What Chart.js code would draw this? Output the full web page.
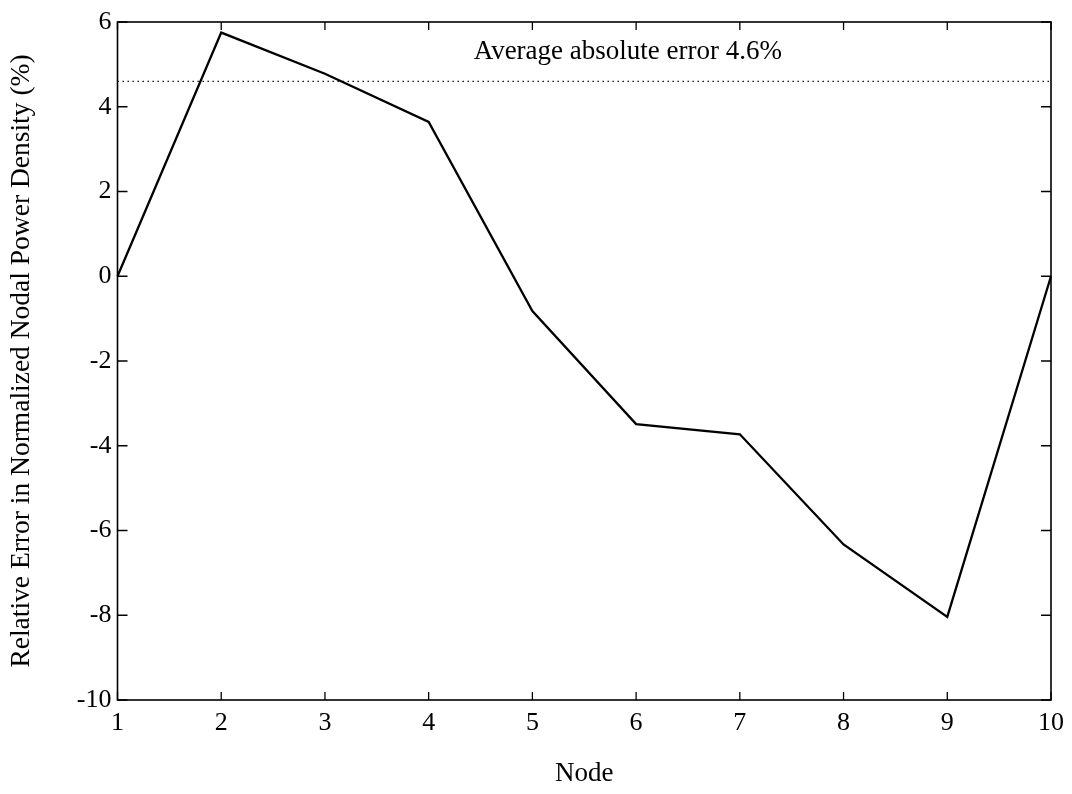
<!DOCTYPE html>
<html>
<head>
<meta charset="utf-8">
<script src="https://cdn.jsdelivr.net/npm/chart.js@4.4.1/dist/chart.umd.min.js"></script>
<style>
  html, body { margin: 0; padding: 0; background: #fff; }
  #wrap { width: 1072px; height: 794px; }
</style>
</head>
<body>
<div id="wrap"><canvas id="c" width="1072" height="794"></canvas></div>
<script>
// Node index along the channel
const nodes = [1, 2, 3, 4, 5, 6, 7, 8, 9, 10];
// Relative error in normalized nodal power density (%)
const relError = [0, 5.75, 4.78, 3.64, -0.82, -3.49, -3.73, -6.33, -8.04, 0];
// Average absolute error (%)
const avgAbsError = 4.6;
const xTicks = [1, 2, 3, 4, 5, 6, 7, 8, 9, 10];
const yTicks = [-10, -8, -6, -4, -2, 0, 2, 4, 6];
const noteText = 'Average absolute error ' + avgAbsError.toFixed(1) + '%';

const SERIF = '"Liberation Serif", "Times New Roman", Times, serif';

// Box frame with inward ticks on all four sides, plus the average-error note
const framePlugin = {
  id: 'frame',
  afterDatasetsDraw(chart) {
    const { ctx, chartArea: a, scales: { x, y } } = chart;
    ctx.save();
    ctx.strokeStyle = '#000';
    ctx.lineWidth = 1.6;
    ctx.strokeRect(a.left, a.top, a.right - a.left, a.bottom - a.top);
    ctx.lineWidth = 1.3;
    ctx.beginPath();
    xTicks.forEach(v => {
      const px = x.getPixelForValue(v);
      ctx.moveTo(px, a.bottom); ctx.lineTo(px, a.bottom - 8);
      ctx.moveTo(px, a.top); ctx.lineTo(px, a.top + 8);
    });
    yTicks.forEach(v => {
      const py = y.getPixelForValue(v);
      ctx.moveTo(a.left, py); ctx.lineTo(a.left + 10, py);
      ctx.moveTo(a.right, py); ctx.lineTo(a.right - 10, py);
    });
    ctx.stroke();

    ctx.fillStyle = '#000';
    ctx.font = '27px ' + SERIF;
    ctx.textAlign = 'center';
    ctx.textBaseline = 'alphabetic';
    ctx.fillText(noteText, x.getPixelForValue(5.92), y.getPixelForValue(5.12));
    ctx.restore();
  }
};

new Chart(document.getElementById('c'), {
  type: 'line',
  data: {
    datasets: [
      {
        label: 'Relative error',
        data: nodes.map((n, i) => ({ x: n, y: relError[i] })),
        borderColor: '#000',
        borderWidth: 2.3,
        pointRadius: 0,
        tension: 0,
        clip: false
      },
      {
        label: 'Average absolute error',
        data: [{ x: nodes[0], y: avgAbsError }, { x: nodes[nodes.length - 1], y: avgAbsError }],
        borderColor: '#000',
        borderWidth: 1.4,
        borderDash: [1.4, 3.6],
        pointRadius: 0
      }
    ]
  },
  options: {
    responsive: false,
    animation: false,
    devicePixelRatio: 1,
    layout: { padding: { top: 22, right: 21, left: 0, bottom: 0 } },
    plugins: { legend: { display: false }, tooltip: { enabled: false } },
    scales: {
      x: {
        type: 'linear',
        min: 1, max: 10,
        afterBuildTicks: s => { s.ticks = xTicks.map(v => ({ value: v })); },
        afterFit: s => { s.height = 94; },
        grid: { display: false, drawTicks: false },
        border: { display: false },
        ticks: {
          color: '#000',
          padding: 8,
          maxRotation: 0,
          font: { family: SERIF, size: 26 },
          callback: v => String(v)
        },
        title: {
          display: true,
          text: 'Node',
          color: '#000',
          font: { family: SERIF, size: 27 },
          padding: { top: 0, bottom: 4 }
        }
      },
      y: {
        type: 'linear',
        min: -10, max: 6,
        afterBuildTicks: s => { s.ticks = yTicks.map(v => ({ value: v })); },
        afterFit: s => { s.width = 117.5; },
        grid: { display: false, drawTicks: false },
        border: { display: false },
        ticks: {
          color: '#000',
          padding: 6,
          font: { family: SERIF, size: 26 },
          callback: v => String(v)
        },
        title: {
          display: true,
          text: 'Relative Error in Normalized Nodal Power Density (%)',
          color: '#000',
          font: { family: SERIF, size: 27.5 },
          padding: { top: 5, bottom: 0 }
        }
      }
    }
  },
  plugins: [framePlugin]
});
</script>
</body>
</html>
